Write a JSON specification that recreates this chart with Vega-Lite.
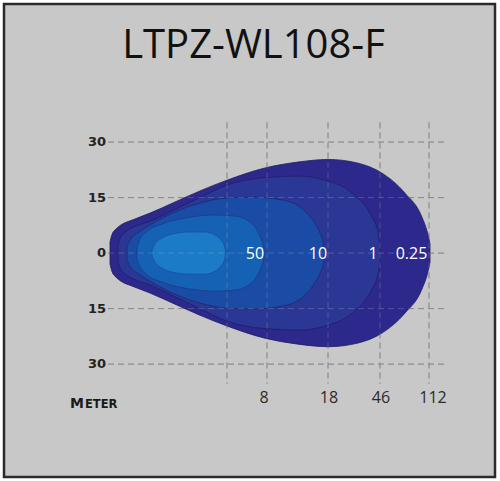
{
  "$schema": "https://vega.github.io/schema/vega-lite/v6.json",
  "width": 491,
  "height": 473,
  "autosize": "none",
  "padding": {"left": 4, "top": 4, "right": 5, "bottom": 4},
  "background": "white",
  "view": {"fill": "#c8c8c8", "stroke": "#2b2b2b", "strokeWidth": 2.5},
  "datasets": {
    "outer": [
      {"x": 2, "h": 3.0, "hn": -3.0}, {"x": 4, "h": 5.0, "hn": -5.0}, {"x": 8, "h": 6.5, "hn": -6.5},
      {"x": 13, "h": 7.6, "hn": -7.6}, {"x": 25, "h": 9.0, "hn": -9.0}, {"x": 42, "h": 10.8, "hn": -10.8},
      {"x": 67, "h": 13.8, "hn": -13.8}, {"x": 92, "h": 16.8, "hn": -16.8}, {"x": 119, "h": 19.7, "hn": -19.7},
      {"x": 157, "h": 23.0, "hn": -23.0}, {"x": 190, "h": 24.6, "hn": -24.6}, {"x": 220, "h": 25.3, "hn": -25.3},
      {"x": 250, "h": 24.3, "hn": -24.3}, {"x": 274, "h": 21.6, "hn": -21.6}, {"x": 297, "h": 16.2, "hn": -16.2},
      {"x": 314, "h": 9.7, "hn": -9.7}, {"x": 319.5, "h": 5.5, "hn": -5.5}, {"x": 322, "h": 2.5, "hn": -2.5}
    ],
    "lux1": [
      {"x": 10, "h": 2.0, "hn": -2.0}, {"x": 12, "h": 4.0, "hn": -4.0}, {"x": 17, "h": 5.6, "hn": -5.6},
      {"x": 27, "h": 7.2, "hn": -7.2}, {"x": 42, "h": 8.6, "hn": -8.6}, {"x": 67, "h": 11.8, "hn": -11.8},
      {"x": 92, "h": 15.0, "hn": -15.0}, {"x": 119, "h": 18.4, "hn": -18.4}, {"x": 157, "h": 20.4, "hn": -20.4},
      {"x": 190, "h": 20.8, "hn": -20.8}, {"x": 217, "h": 19.7, "hn": -19.7}, {"x": 244, "h": 16.2, "hn": -16.2},
      {"x": 264, "h": 9.7, "hn": -9.7}, {"x": 270, "h": 5.7, "hn": -5.7}, {"x": 272, "h": 2.2, "hn": -2.2}
    ],
    "lux10": [
      {"x": 19, "h": 1.9, "hn": -1.9}, {"x": 22, "h": 3.5, "hn": -3.5}, {"x": 32, "h": 5.9, "hn": -5.9},
      {"x": 42, "h": 7.6, "hn": -7.6}, {"x": 67, "h": 11.1, "hn": -11.1}, {"x": 92, "h": 13.5, "hn": -13.5},
      {"x": 119, "h": 14.9, "hn": -14.9}, {"x": 142, "h": 15.1, "hn": -15.1}, {"x": 175, "h": 14.3, "hn": -14.3},
      {"x": 199, "h": 10.8, "hn": -10.8}, {"x": 206, "h": 8.4, "hn": -8.4}, {"x": 212, "h": 5.4, "hn": -5.4},
      {"x": 215.5, "h": 2.5, "hn": -2.5}, {"x": 216, "h": 1.6, "hn": -1.6}
    ],
    "lux50": [
      {"x": 29, "h": 1.6, "hn": -1.6}, {"x": 31, "h": 3.2, "hn": -3.2}, {"x": 37, "h": 5.4, "hn": -5.4},
      {"x": 57, "h": 8.1, "hn": -8.1}, {"x": 82, "h": 9.7, "hn": -9.7}, {"x": 107, "h": 10.3, "hn": -10.3},
      {"x": 127, "h": 10.0, "hn": -10.0}, {"x": 139, "h": 8.9, "hn": -8.9}, {"x": 149, "h": 6.2, "hn": -6.2},
      {"x": 154, "h": 3.2, "hn": -3.2}, {"x": 156, "h": 1.4, "hn": -1.4}
    ],
    "inner": [
      {"x": 44, "h": 0.8, "hn": -0.8}, {"x": 47, "h": 2.5, "hn": -2.5}, {"x": 55, "h": 4.2, "hn": -4.2},
      {"x": 65, "h": 5.2, "hn": -5.2}, {"x": 82, "h": 5.7, "hn": -5.7}, {"x": 97, "h": 5.7, "hn": -5.7},
      {"x": 107, "h": 4.9, "hn": -4.9}, {"x": 113, "h": 3.5, "hn": -3.5}, {"x": 116.5, "h": 1.8, "hn": -1.8},
      {"x": 117.5, "h": 0.6, "hn": -0.6}
    ],
    "hgrid": [
      {"y": 30, "x1": 0, "x2": 340}, {"y": 15, "x1": 0, "x2": 340}, {"y": 0, "x1": 0, "x2": 340},
      {"y": -15, "x1": 0, "x2": 340}, {"y": -30, "x1": 0, "x2": 340}
    ],
    "vgrid": [
      {"x": 119, "y1": 35.3, "y2": -35.3}, {"x": 159, "y1": 35.3, "y2": -35.3}, {"x": 220, "y1": 35.3, "y2": -35.3},
      {"x": 272, "y1": 35.3, "y2": -35.3}, {"x": 321, "y1": 35.3, "y2": -35.3}
    ],
    "ylabels": [
      {"x": -2, "y": 30, "t": "30"}, {"x": -2, "y": 15, "t": "15"}, {"x": -2, "y": 0, "t": "0"},
      {"x": -2, "y": -15, "t": "15"}, {"x": -2, "y": -30, "t": "30"}
    ],
    "xlabels": [
      {"x": 156, "y": -40.5, "t": "8"}, {"x": 221, "y": -40.5, "t": "18"},
      {"x": 273, "y": -40.5, "t": "46"}, {"x": 325, "y": -40.5, "t": "112"}
    ],
    "luxlabels": [
      {"x": 147, "y": -0.3, "t": "50"}, {"x": 210, "y": -0.3, "t": "10"},
      {"x": 265, "y": -0.3, "t": "1"}, {"x": 303.5, "y": -0.3, "t": "0.25"}
    ],
    "title": [{"x": 145.5, "y": 52.7, "t": "LTPZ-WL108-F"}],
    "meterM": [{"x": -38, "y": -41.9, "t": "M"}],
    "meterRest": [{"x": -23, "y": -41.9, "t": "ETER"}]
  },
  "layer": [
    {
      "data": {"name": "hgrid"},
      "mark": {"type": "rule", "color": "#7a7a7a", "strokeWidth": 1, "strokeDash": [6, 4]},
      "encoding": {
        "x": {"field": "x1", "type": "quantitative", "scale": {"domain": [-104, 387], "nice": false, "zero": false}, "axis": null},
        "x2": {"field": "x2"},
        "y": {"field": "y", "type": "quantitative", "scale": {"domain": [-60.5, 67.3], "nice": false, "zero": false}, "axis": null}
      }
    },
    {
      "data": {"name": "vgrid"},
      "mark": {"type": "rule", "color": "#7a7a7a", "strokeWidth": 1, "strokeDash": [6, 4]},
      "encoding": {
        "x": {"field": "x", "type": "quantitative", "scale": {"domain": [-104, 387], "nice": false, "zero": false}, "axis": null},
        "y": {"field": "y1", "type": "quantitative", "scale": {"domain": [-60.5, 67.3], "nice": false, "zero": false}, "axis": null},
        "y2": {"field": "y2"}
      }
    },
    {
      "data": {"name": "outer"},
      "mark": {"type": "area", "interpolate": "monotone", "fill": "#2d288c", "stroke": "#1f1b5e", "strokeWidth": 0.8},
      "encoding": {
        "x": {"field": "x", "type": "quantitative", "scale": {"domain": [-104, 387], "nice": false, "zero": false}, "axis": null},
        "y": {"field": "h", "type": "quantitative", "scale": {"domain": [-60.5, 67.3], "nice": false, "zero": false}, "axis": null},
        "y2": {"field": "hn"}
      }
    },
    {
      "data": {"name": "lux1"},
      "mark": {"type": "area", "interpolate": "monotone", "fill": "#2a3795", "stroke": "#1f1f62", "strokeWidth": 0.8},
      "encoding": {
        "x": {"field": "x", "type": "quantitative", "scale": {"domain": [-104, 387], "nice": false, "zero": false}, "axis": null},
        "y": {"field": "h", "type": "quantitative", "scale": {"domain": [-60.5, 67.3], "nice": false, "zero": false}, "axis": null},
        "y2": {"field": "hn"}
      }
    },
    {
      "data": {"name": "lux10"},
      "mark": {"type": "area", "interpolate": "monotone", "fill": "#1a4ca6", "stroke": "#1c2a70", "strokeWidth": 0.8},
      "encoding": {
        "x": {"field": "x", "type": "quantitative", "scale": {"domain": [-104, 387], "nice": false, "zero": false}, "axis": null},
        "y": {"field": "h", "type": "quantitative", "scale": {"domain": [-60.5, 67.3], "nice": false, "zero": false}, "axis": null},
        "y2": {"field": "hn"}
      }
    },
    {
      "data": {"name": "lux50"},
      "mark": {"type": "area", "interpolate": "monotone", "fill": "#1561b3", "stroke": "#1a3c86", "strokeWidth": 0.8},
      "encoding": {
        "x": {"field": "x", "type": "quantitative", "scale": {"domain": [-104, 387], "nice": false, "zero": false}, "axis": null},
        "y": {"field": "h", "type": "quantitative", "scale": {"domain": [-60.5, 67.3], "nice": false, "zero": false}, "axis": null},
        "y2": {"field": "hn"}
      }
    },
    {
      "data": {"name": "inner"},
      "mark": {"type": "area", "interpolate": "monotone", "fill": "#1b7bc7", "stroke": "#1a4f9a", "strokeWidth": 0.8},
      "encoding": {
        "x": {"field": "x", "type": "quantitative", "scale": {"domain": [-104, 387], "nice": false, "zero": false}, "axis": null},
        "y": {"field": "h", "type": "quantitative", "scale": {"domain": [-60.5, 67.3], "nice": false, "zero": false}, "axis": null},
        "y2": {"field": "hn"}
      }
    },
    {
      "data": {"name": "hgrid"},
      "mark": {"type": "rule", "color": "#b0b0b0", "opacity": 0.3, "strokeWidth": 1, "strokeDash": [6, 4]},
      "encoding": {
        "x": {"field": "x1", "type": "quantitative", "scale": {"domain": [-104, 387], "nice": false, "zero": false}, "axis": null},
        "x2": {"field": "x2"},
        "y": {"field": "y", "type": "quantitative", "scale": {"domain": [-60.5, 67.3], "nice": false, "zero": false}, "axis": null}
      }
    },
    {
      "data": {"name": "vgrid"},
      "mark": {"type": "rule", "color": "#b0b0b0", "opacity": 0.3, "strokeWidth": 1, "strokeDash": [6, 4]},
      "encoding": {
        "x": {"field": "x", "type": "quantitative", "scale": {"domain": [-104, 387], "nice": false, "zero": false}, "axis": null},
        "y": {"field": "y1", "type": "quantitative", "scale": {"domain": [-60.5, 67.3], "nice": false, "zero": false}, "axis": null},
        "y2": {"field": "y2"}
      }
    },
    {
      "data": {"name": "ylabels"},
      "mark": {"type": "text", "align": "right", "baseline": "middle", "font": "DejaVu Sans", "fontWeight": "bold", "fontSize": 13, "color": "#222222"},
      "encoding": {
        "x": {"field": "x", "type": "quantitative", "scale": {"domain": [-104, 387], "nice": false, "zero": false}, "axis": null},
        "y": {"field": "y", "type": "quantitative", "scale": {"domain": [-60.5, 67.3], "nice": false, "zero": false}, "axis": null},
        "text": {"field": "t"}
      }
    },
    {
      "data": {"name": "xlabels"},
      "mark": {"type": "text", "align": "center", "baseline": "alphabetic", "font": "Open Sans", "fontSize": 16, "color": "#2a2a2a"},
      "encoding": {
        "x": {"field": "x", "type": "quantitative", "scale": {"domain": [-104, 387], "nice": false, "zero": false}, "axis": null},
        "y": {"field": "y", "type": "quantitative", "scale": {"domain": [-60.5, 67.3], "nice": false, "zero": false}, "axis": null},
        "text": {"field": "t"}
      }
    },
    {
      "data": {"name": "luxlabels"},
      "mark": {"type": "text", "align": "center", "baseline": "middle", "font": "Open Sans", "fontSize": 16, "color": "#ffffff"},
      "encoding": {
        "x": {"field": "x", "type": "quantitative", "scale": {"domain": [-104, 387], "nice": false, "zero": false}, "axis": null},
        "y": {"field": "y", "type": "quantitative", "scale": {"domain": [-60.5, 67.3], "nice": false, "zero": false}, "axis": null},
        "text": {"field": "t"}
      }
    },
    {
      "data": {"name": "title"},
      "mark": {"type": "text", "align": "center", "baseline": "alphabetic", "font": "Open Sans", "fontSize": 40, "color": "#111111"},
      "encoding": {
        "x": {"field": "x", "type": "quantitative", "scale": {"domain": [-104, 387], "nice": false, "zero": false}, "axis": null},
        "y": {"field": "y", "type": "quantitative", "scale": {"domain": [-60.5, 67.3], "nice": false, "zero": false}, "axis": null},
        "text": {"field": "t"}
      }
    },
    {
      "data": {"name": "meterM"},
      "mark": {"type": "text", "align": "left", "baseline": "alphabetic", "font": "DejaVu Sans", "fontWeight": "bold", "fontSize": 14, "color": "#1a1a1a"},
      "encoding": {
        "x": {"field": "x", "type": "quantitative", "scale": {"domain": [-104, 387], "nice": false, "zero": false}, "axis": null},
        "y": {"field": "y", "type": "quantitative", "scale": {"domain": [-60.5, 67.3], "nice": false, "zero": false}, "axis": null},
        "text": {"field": "t"}
      }
    },
    {
      "data": {"name": "meterRest"},
      "mark": {"type": "text", "align": "left", "baseline": "alphabetic", "font": "DejaVu Sans", "fontWeight": "bold", "fontSize": 11.5, "color": "#1a1a1a"},
      "encoding": {
        "x": {"field": "x", "type": "quantitative", "scale": {"domain": [-104, 387], "nice": false, "zero": false}, "axis": null},
        "y": {"field": "y", "type": "quantitative", "scale": {"domain": [-60.5, 67.3], "nice": false, "zero": false}, "axis": null},
        "text": {"field": "t"}
      }
    }
  ]
}
